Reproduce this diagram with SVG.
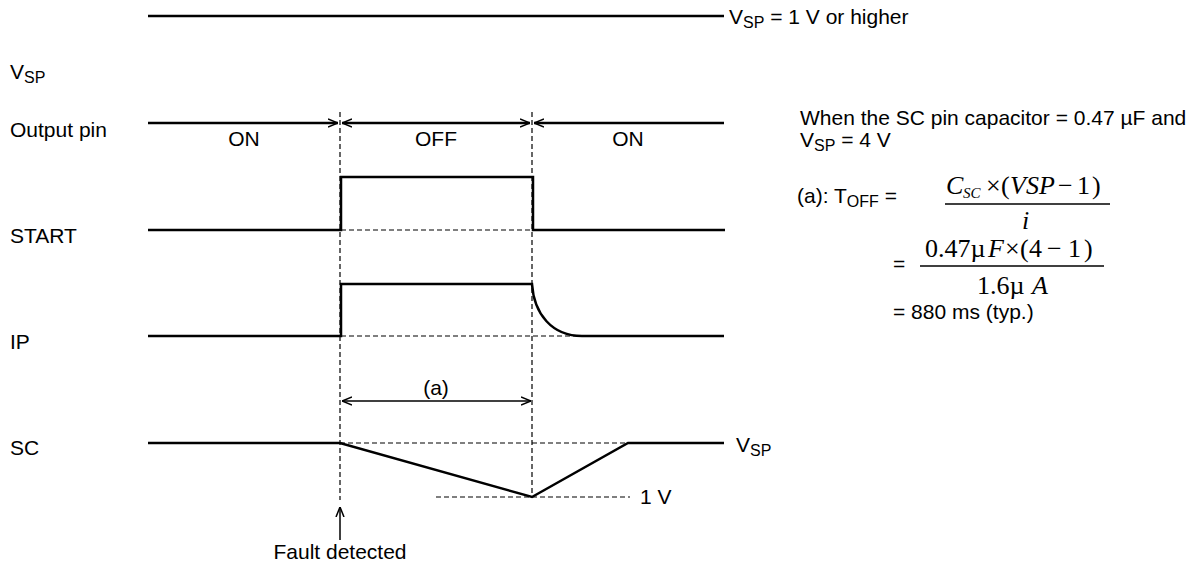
<svg xmlns="http://www.w3.org/2000/svg" width="1200" height="566" viewBox="0 0 1200 566">
<defs>
<style>
.t{font-family:"Liberation Sans",Arial,sans-serif;font-size:21px;fill:#000}
.s{font-size:16px}
.m{font-family:"Liberation Serif","Times New Roman",serif;font-size:26px;fill:#000}
.i{font-style:italic}
.sig{fill:none;stroke:#000;stroke-width:2.5}
.dash{fill:none;stroke:#000;stroke-width:1.2;stroke-dasharray:5,3}
.thin{fill:none;stroke:#000;stroke-width:1.5}
.frac{stroke:#000;stroke-width:1.3}
</style>
<marker id="ah" viewBox="0 0 10 10" refX="10" refY="5" markerWidth="10" markerHeight="10" markerUnits="userSpaceOnUse" orient="auto-start-reverse">
<path d="M0,1 L10,5 L0,9" fill="none" stroke="#000" stroke-width="1.5"/>
</marker>
</defs>
<rect width="1200" height="566" fill="#fff"/>

<g id="labels">
<text class="t" x="10" y="79">V<tspan class="s" dy="4">SP</tspan></text>
<text class="t" x="10" y="137">Output pin</text>
<text class="t" x="10" y="243">START</text>
<text class="t" x="10" y="349">IP</text>
<text class="t" x="10" y="455">SC</text>
</g>

<g id="vsp-signal">
<line class="sig" x1="148" y1="16" x2="724" y2="16"/>
<text class="t" x="729" y="24">V<tspan class="s" dy="4">SP</tspan><tspan dy="-4"> = 1 V or higher</tspan></text>
</g>

<g id="output-pin-signal">
<text class="t" x="244" y="146" text-anchor="middle">ON</text>
<text class="t" x="436" y="146" text-anchor="middle">OFF</text>
<text class="t" x="628" y="146" text-anchor="middle">ON</text>
</g>

<g id="start-signal">
<path class="sig" d="M148,230 H341 V177 H533 V230 H725"/>
</g>

<g id="ip-signal">
<path class="sig" d="M148,336 H341 V284 H532 C534,314 552,336 582,336 H724"/>
</g>

<g id="sc-signal">
<path class="sig" d="M148,443 H340 L532,497 L628,443 H724"/>
<text class="t" x="736" y="452">V<tspan class="s" dy="4">SP</tspan></text>
<text class="t" x="640" y="504">1 V</text>
</g>

<g id="period-a">
<text class="t" x="436" y="395" text-anchor="middle">(a)</text>
</g>

<g id="fault">
<text class="t" x="340" y="559" text-anchor="middle">Fault detected</text>
</g>

<g id="formula">
<text class="t" x="800" y="125">When the SC pin capacitor = 0.47 µF and</text>
<text class="t" x="800" y="147">V<tspan class="s" dy="4">SP</tspan><tspan dy="-4"> = 4 V</tspan></text>
<text class="t" x="797" y="203">(a): T<tspan class="s" dy="4">OFF</tspan><tspan dy="-4"> =</tspan></text>
<text class="m" y="194"><tspan class="i" x="946">C</tspan><tspan class="i" font-size="15" x="963" dy="4">SC</tspan><tspan x="986" dy="-4">×</tspan><tspan x="1001">(</tspan><tspan class="i" x="1010">VSP</tspan><tspan x="1058">−</tspan><tspan x="1077">1</tspan><tspan x="1092">)</tspan></text>
<line class="frac" x1="945" y1="204" x2="1110" y2="204"/>
<text class="m i" x="1022" y="229">i</text>
<text class="t" x="893" y="271">=</text>
<text class="m" y="257"><tspan x="925">0.47µ</tspan><tspan class="i" x="988">F</tspan><tspan x="1005">×</tspan><tspan x="1020">(</tspan><tspan x="1029">4</tspan><tspan x="1047">−</tspan><tspan x="1068">1</tspan><tspan x="1084">)</tspan></text>
<line class="frac" x1="920" y1="266" x2="1104" y2="266"/>
<text class="m" y="294"><tspan x="977">1.6µ</tspan><tspan class="i" x="1032">A</tspan></text>
<text class="t" x="893" y="319">= 880 ms (typ.)</text>
</g>

<g id="connectors">
<line class="sig" x1="148" y1="123" x2="338" y2="123" marker-end="url(#ah)"/>
<line class="sig" x1="342" y1="123" x2="530" y2="123" marker-start="url(#ah)" marker-end="url(#ah)"/>
<line class="sig" x1="534" y1="123" x2="724" y2="123" marker-start="url(#ah)"/>
<line class="dash" x1="340" y1="112" x2="340" y2="500"/>
<line class="dash" x1="532" y1="112" x2="532" y2="497"/>
<line class="dash" x1="341" y1="230" x2="533" y2="230"/>
<line class="dash" x1="341" y1="336" x2="582" y2="336"/>
<line class="dash" x1="340" y1="443" x2="628" y2="443"/>
<line class="dash" x1="436" y1="497" x2="630" y2="497"/>
<line class="thin" x1="342" y1="401" x2="531" y2="401" marker-start="url(#ah)" marker-end="url(#ah)"/>
<line class="thin" x1="340" y1="540" x2="340" y2="507" marker-end="url(#ah)"/>
</g>
</svg>
